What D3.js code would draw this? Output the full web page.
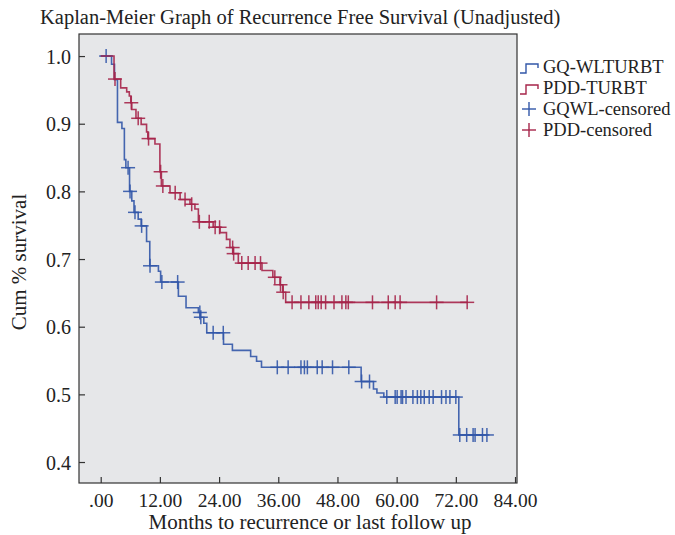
<!DOCTYPE html>
<html>
<head>
<meta charset="utf-8">
<script src="https://cdn.jsdelivr.net/npm/d3@7"></script>
<style>
  body { margin: 0; background: #fff; }
  svg text { font-family: "Liberation Serif", "DejaVu Serif", serif; fill: #222; }
</style>
</head>
<body>
<svg id="chart" width="675" height="535"></svg>
<script>
// step data (time in months, survival after the drop)
var blueTimes = [0, 2.2, 2.8, 3.4, 4.3, 4.8, 5.1, 5.85, 6.3, 6.75, 7.6, 8.2, 9.3, 9.95, 11.7, 12.15, 15.75, 17.3, 19.8, 20.2, 20.9, 21.5, 24.9, 26.7, 30.4, 31.6, 32.6, 52.8, 55.3, 56.0, 57.4, 72.6];
var blueSurv = [1, 0.988, 0.965, 0.902, 0.893, 0.847, 0.835, 0.800, 0.786, 0.769, 0.759, 0.749, 0.726, 0.690, 0.682, 0.666, 0.645, 0.628, 0.621, 0.614, 0.605, 0.591, 0.574, 0.565, 0.556, 0.549, 0.540, 0.519, 0.508, 0.502, 0.496, 0.440];
var blueCensored = [1.1, 5.55, 5.95, 6.95, 8.3, 10.0, 12.4, 15.6, 20.1, 20.3, 22.8, 24.85, 35.8, 38.0, 40.6, 41.3, 41.9, 43.9, 44.9, 47.0, 50.3, 52.9, 54.5, 58.0, 59.7, 60.1, 60.9, 61.2, 61.9, 63.3, 64.2, 64.9, 65.6, 66.6, 67.4, 69.1, 70.0, 70.8, 72.0, 72.8, 74.2, 75.5, 75.9, 77.4, 78.3];

var redTimes = [0, 2.7, 4.05, 5.27, 5.8, 6.1, 6.3, 7.15, 8.2, 9.3, 9.55, 11.0, 12.0, 12.3, 14.05, 16.1, 18.1, 19.1, 19.8, 22.8, 24.2, 25.5, 26.2, 26.85, 27.9, 32.7, 34.9, 36.35, 36.9, 37.5];
var redSurv = [1, 0.966, 0.953, 0.947, 0.941, 0.931, 0.921, 0.908, 0.899, 0.888, 0.878, 0.870, 0.829, 0.808, 0.798, 0.788, 0.781, 0.774, 0.755, 0.747, 0.739, 0.729, 0.717, 0.708, 0.694, 0.683, 0.673, 0.662, 0.651, 0.636];
var redCensored = [2.9, 6.2, 7.6, 9.7, 12.15, 12.6, 15.1, 17.1, 18.45, 20.0, 22.0, 23.2, 24.1, 26.75, 26.95, 28.6, 29.9, 31.3, 32.4, 35.3, 36.45, 37.0, 38.8, 40.6, 42.2, 43.6, 44.1, 44.7, 45.6, 47.3, 48.9, 49.7, 50.2, 55.1, 58.3, 59.7, 60.7, 68.1, 74.3];

var xTicks = [0, 12, 24, 36, 48, 60, 72, 84];
var yTicks = [0.4, 0.5, 0.6, 0.7, 0.8, 0.9, 1.0];
var legendLabels = ["GQ-WLTURBT", "PDD-TURBT", "GQWL-censored", "PDD-censored"];

var drawChart = function() {
    var blue = "#3257a8", red = "#a6254a";

    var svg = d3.select("#chart");
    var pLeft = 79, pRight = 517, pTop = 34, pBottom = 483;

    var x = d3.scaleLinear().domain([-4.4, 84.4]).range([pLeft, pRight]);
    var y = d3.scaleLinear().domain([0.369, 1.0326]).range([pBottom, pTop]);

    svg.append("rect")
        .attr("x", pLeft).attr("y", pTop)
        .attr("width", pRight - pLeft).attr("height", pBottom - pTop)
        .attr("fill", "#e6e7e9")
        .attr("stroke", "#333").attr("stroke-width", 1.2);

    // inward ticks
    svg.append("g").attr("transform", "translate(0," + pBottom + ")")
        .call(d3.axisBottom(x).tickValues(xTicks).tickSizeInner(-6).tickSizeOuter(0)
            .tickFormat(function(d) { return d === 0 ? ".00" : d3.format(".2f")(d); }))
        .call(function(g) {
            g.select(".domain").remove();
            g.selectAll("line").attr("stroke", "#333").attr("stroke-width", 1.2);
            g.selectAll("text").attr("dy", null).attr("y", 23.5)
                .style("font-size", "19.5px").style("font-family", "Liberation Serif").attr("fill", "#222");
        });

    svg.append("g").attr("transform", "translate(" + pLeft + ",0)")
        .call(d3.axisLeft(y).tickValues(yTicks).tickSizeInner(-6).tickSizeOuter(0)
            .tickFormat(d3.format(".1f")))
        .call(function(g) {
            g.select(".domain").remove();
            g.selectAll("line").attr("stroke", "#333").attr("stroke-width", 1.2);
            g.selectAll("text").attr("x", -8).attr("dy", "0.36em")
                .style("font-size", "20px").style("font-family", "Liberation Serif").attr("fill", "#222");
        });

    function survAt(times, surv, t) {
        var s = surv[0];
        for (var i = 0; i < times.length; i++) {
            if (times[i] <= t) s = surv[i];
        }
        return s;
    }

    var stepLine = d3.line()
        .x(function(d) { return x(d[0]); })
        .y(function(d) { return y(d[1]); })
        .curve(d3.curveStepAfter);

    function drawCurve(times, surv, censored, color) {
        var pts = times.map(function(t, i) { return [t, surv[i]]; });
        var tEnd = d3.max(censored.concat(times));
        pts.push([tEnd, survAt(times, surv, tEnd)]);

        svg.append("path")
            .datum(pts)
            .attr("d", stepLine)
            .attr("fill", "none")
            .attr("stroke", color)
            .attr("stroke-width", 1.6)
            .attr("stroke-opacity", 0.9);

        var marks = svg.append("g").selectAll("g")
            .data(censored)
            .enter().append("g")
            .attr("transform", function(d) {
                return "translate(" + x(d) + "," + y(survAt(times, surv, d)) + ")";
            });
        marks.append("line").attr("x1", -7).attr("x2", 7).attr("y1", 0).attr("y2", 0);
        marks.append("line").attr("x1", 0).attr("x2", 0).attr("y1", -7).attr("y2", 7);
        marks.selectAll("line").attr("stroke", color).attr("stroke-width", 1.5).attr("stroke-opacity", 0.9);
    }

    drawCurve(blueTimes, blueSurv, blueCensored, blue);
    drawCurve(redTimes, redSurv, redCensored, red);

    // titles
    svg.append("text")
        .attr("x", 40).attr("y", 24)
        .style("font-size", "20.5px")
        .text("Kaplan-Meier Graph of Recurrence Free Survival (Unadjusted)");

    svg.append("text")
        .attr("x", 310).attr("y", 529)
        .attr("text-anchor", "middle")
        .style("font-size", "21px")
        .text("Months to recurrence or last follow up");

    svg.append("text")
        .attr("transform", "translate(26,262) rotate(-90)")
        .attr("text-anchor", "middle")
        .style("font-size", "21px")
        .text("Cum % survival");

    // legend
    var legendColors = [blue, red, blue, red];
    var legend = svg.append("g").selectAll("g")
        .data(legendLabels)
        .enter().append("g")
        .attr("transform", function(d, i) { return "translate(520," + (67 + i * 21) + ")"; });

    legend.each(function(d, i) {
        var g = d3.select(this);
        if (i < 2) {
            g.append("path")
                .attr("d", "M0,6 h6 v-9 h12 v4")
                .attr("fill", "none").attr("stroke", legendColors[i]).attr("stroke-width", 1.4);
        } else {
            g.append("line").attr("x1", 2).attr("x2", 16).attr("y1", 0).attr("y2", 0)
                .attr("stroke", legendColors[i]).attr("stroke-width", 1.4);
            g.append("line").attr("x1", 9).attr("x2", 9).attr("y1", -7).attr("y2", 7)
                .attr("stroke", legendColors[i]).attr("stroke-width", 1.4);
        }
        g.append("text").attr("x", 23).attr("y", 6)
            .style("font-size", "18.5px")
            .text(d);
    });
};

drawChart();
</script>
</body>
</html>
